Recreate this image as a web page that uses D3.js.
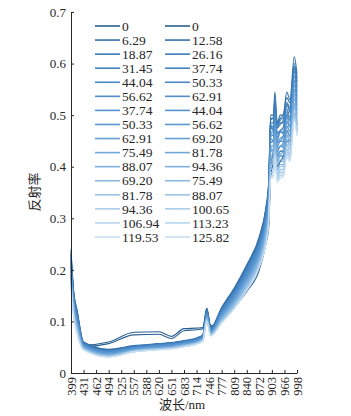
<!DOCTYPE html>
<html>
<head>
<meta charset="utf-8">
<script src="https://cdn.jsdelivr.net/npm/d3@7"></script>
<style>
  body { margin: 0; background: #fff; }
  svg { display: block; }
  text { font-family: 'Liberation Serif', 'DejaVu Serif', 'Noto Sans CJK SC', serif; }
</style>
</head>
<body>
<div id="chart"></div>
<script>
// tick labels on the band axis (printed wavelengths, nm)
const xTickLabels = [399, 431, 462, 494, 525, 557, 588, 620, 651, 683, 714, 746, 777, 809, 840, 872, 903, 966, 998];
const yTicks = [0, 0.1, 0.2, 0.3, 0.4, 0.5, 0.6, 0.7];

// sampled wavelengths for every spectrum
const wavelengths = [399, 405, 415, 431, 494, 557, 620, 651, 683, 714, 730, 740, 750, 777, 809, 840, 872, 888, 895, 900, 910, 918, 930, 945, 960, 972, 980, 991, 998];

const labelsLeft = ['0', '6.29', '18.87', '31.45', '44.04', '56.62', '37.74', '50.33', '62.91', '75.49', '88.07', '69.20', '81.78', '94.36', '106.94', '119.53'];
const labelsRight = ['0', '12.58', '26.16', '37.74', '50.33', '62.91', '44.04', '56.62', '69.20', '81.78', '94.36', '75.49', '88.07', '100.65', '113.23', '125.82'];

// reflectance of the first legend column
const groupLeft = [
  [0.2,0.13,0.085,0.054,0.06,0.079,0.08,0.071,0.086,0.087,0.088,0.126,0.092,0.102,0.13,0.163,0.208,0.258,0.29,0.4,0.43,0.46,0.42,0.43,0.43,0.47,0.46,0.52,0.48],
  [0.24,0.165,0.12,0.06,0.046,0.053,0.057,0.059,0.063,0.068,0.074,0.124,0.088,0.127,0.165,0.21,0.265,0.32,0.37,0.5,0.5,0.545,0.485,0.5,0.5,0.545,0.53,0.613,0.58],
  [0.23,0.161,0.117,0.059,0.045,0.052,0.056,0.058,0.062,0.067,0.073,0.122,0.087,0.125,0.162,0.206,0.26,0.315,0.364,0.49,0.495,0.53,0.48,0.49,0.495,0.5,0.51,0.6,0.57],
  [0.23,0.158,0.113,0.058,0.044,0.051,0.055,0.057,0.061,0.066,0.072,0.12,0.086,0.123,0.159,0.203,0.256,0.31,0.358,0.482,0.47,0.52,0.475,0.482,0.49,0.522,0.512,0.592,0.562],
  [0.225,0.154,0.11,0.057,0.043,0.05,0.054,0.056,0.06,0.065,0.071,0.119,0.084,0.12,0.156,0.199,0.252,0.304,0.352,0.473,0.48,0.505,0.463,0.47,0.475,0.513,0.49,0.583,0.553],
  [0.22,0.15,0.106,0.055,0.041,0.049,0.053,0.055,0.059,0.064,0.07,0.117,0.083,0.118,0.153,0.195,0.247,0.299,0.346,0.464,0.46,0.504,0.45,0.468,0.464,0.5,0.494,0.574,0.544],
  [0.215,0.146,0.103,0.054,0.04,0.049,0.053,0.055,0.059,0.064,0.07,0.115,0.082,0.116,0.15,0.191,0.243,0.294,0.34,0.455,0.45,0.49,0.445,0.455,0.46,0.495,0.48,0.565,0.535],
  [0.21,0.143,0.1,0.053,0.039,0.048,0.052,0.054,0.058,0.063,0.069,0.113,0.081,0.114,0.147,0.188,0.238,0.289,0.334,0.446,0.45,0.486,0.436,0.44,0.446,0.486,0.476,0.556,0.526],
  [0.205,0.139,0.096,0.052,0.038,0.047,0.051,0.053,0.057,0.062,0.068,0.111,0.08,0.111,0.144,0.184,0.234,0.283,0.328,0.437,0.43,0.477,0.427,0.44,0.437,0.477,0.467,0.547,0.517],
  [0.2,0.135,0.093,0.051,0.037,0.046,0.05,0.052,0.056,0.061,0.067,0.11,0.078,0.109,0.141,0.18,0.229,0.278,0.322,0.428,0.435,0.468,0.418,0.425,0.428,0.468,0.458,0.538,0.508],
  [0.195,0.131,0.09,0.05,0.036,0.045,0.049,0.051,0.055,0.06,0.066,0.108,0.077,0.107,0.138,0.176,0.225,0.273,0.316,0.419,0.415,0.459,0.409,0.42,0.419,0.459,0.449,0.529,0.499],
  [0.19,0.128,0.086,0.049,0.035,0.044,0.048,0.05,0.054,0.059,0.065,0.106,0.076,0.105,0.135,0.173,0.22,0.268,0.31,0.41,0.41,0.45,0.4,0.41,0.41,0.45,0.44,0.52,0.49],
  [0.185,0.124,0.083,0.048,0.034,0.043,0.047,0.049,0.053,0.058,0.064,0.104,0.075,0.102,0.132,0.169,0.216,0.262,0.304,0.401,0.405,0.441,0.391,0.4,0.401,0.441,0.431,0.511,0.481],
  [0.18,0.12,0.08,0.047,0.033,0.042,0.046,0.048,0.052,0.057,0.063,0.102,0.074,0.1,0.129,0.165,0.211,0.257,0.298,0.392,0.39,0.432,0.382,0.392,0.395,0.432,0.422,0.502,0.472],
  [0.175,0.118,0.077,0.046,0.032,0.042,0.046,0.048,0.052,0.057,0.063,0.101,0.073,0.099,0.127,0.163,0.208,0.254,0.294,0.386,0.386,0.426,0.376,0.386,0.386,0.426,0.416,0.496,0.466],
  [0.17,0.115,0.075,0.045,0.031,0.041,0.045,0.047,0.051,0.056,0.062,0.1,0.072,0.097,0.125,0.16,0.205,0.25,0.29,0.38,0.38,0.42,0.37,0.38,0.38,0.42,0.41,0.49,0.46]
];

// reflectance of the second legend column
const groupRight = [
  [0.19,0.125,0.08,0.051,0.057,0.074,0.075,0.067,0.082,0.084,0.086,0.122,0.089,0.1,0.127,0.158,0.2,0.25,0.28,0.38,0.41,0.44,0.4,0.41,0.42,0.45,0.45,0.5,0.47],
  [0.235,0.163,0.118,0.059,0.045,0.052,0.056,0.058,0.062,0.067,0.073,0.123,0.087,0.126,0.163,0.207,0.262,0.317,0.366,0.494,0.494,0.51,0.484,0.494,0.5,0.534,0.524,0.59,0.574],
  [0.225,0.159,0.114,0.058,0.044,0.052,0.056,0.058,0.062,0.067,0.073,0.121,0.086,0.123,0.16,0.204,0.258,0.311,0.36,0.485,0.485,0.525,0.475,0.485,0.485,0.525,0.515,0.595,0.565],
  [0.22,0.155,0.111,0.057,0.043,0.051,0.055,0.057,0.061,0.066,0.072,0.119,0.085,0.121,0.157,0.2,0.253,0.306,0.354,0.476,0.47,0.516,0.466,0.47,0.476,0.52,0.506,0.586,0.556],
  [0.215,0.151,0.108,0.056,0.042,0.05,0.054,0.056,0.06,0.065,0.071,0.117,0.084,0.119,0.154,0.196,0.249,0.301,0.348,0.467,0.467,0.507,0.457,0.467,0.467,0.507,0.497,0.577,0.547],
  [0.21,0.148,0.104,0.055,0.041,0.049,0.053,0.055,0.059,0.064,0.07,0.116,0.082,0.117,0.151,0.193,0.244,0.296,0.342,0.458,0.462,0.498,0.448,0.45,0.458,0.498,0.488,0.568,0.538],
  [0.205,0.144,0.101,0.054,0.039,0.048,0.052,0.054,0.058,0.063,0.069,0.114,0.081,0.114,0.148,0.189,0.24,0.29,0.336,0.449,0.449,0.489,0.439,0.449,0.449,0.489,0.479,0.559,0.529],
  [0.2,0.14,0.098,0.053,0.039,0.047,0.051,0.053,0.057,0.062,0.068,0.112,0.08,0.112,0.145,0.185,0.235,0.285,0.33,0.44,0.44,0.48,0.43,0.44,0.44,0.48,0.47,0.55,0.52],
  [0.195,0.136,0.094,0.051,0.037,0.046,0.05,0.052,0.056,0.061,0.067,0.11,0.079,0.11,0.142,0.181,0.231,0.28,0.324,0.431,0.431,0.471,0.421,0.431,0.431,0.471,0.461,0.541,0.511],
  [0.19,0.133,0.091,0.05,0.036,0.045,0.049,0.051,0.055,0.06,0.066,0.108,0.078,0.108,0.139,0.178,0.226,0.275,0.318,0.422,0.422,0.462,0.412,0.422,0.422,0.462,0.452,0.532,0.502],
  [0.185,0.129,0.087,0.049,0.035,0.044,0.048,0.05,0.054,0.059,0.065,0.107,0.076,0.105,0.136,0.174,0.222,0.269,0.312,0.413,0.413,0.453,0.403,0.413,0.413,0.453,0.443,0.523,0.493],
  [0.18,0.125,0.084,0.048,0.034,0.043,0.047,0.049,0.053,0.058,0.064,0.105,0.075,0.103,0.133,0.17,0.217,0.264,0.306,0.404,0.404,0.444,0.394,0.404,0.404,0.444,0.434,0.514,0.484],
  [0.175,0.121,0.081,0.047,0.033,0.043,0.047,0.049,0.053,0.058,0.064,0.103,0.074,0.101,0.13,0.166,0.213,0.259,0.3,0.395,0.395,0.435,0.385,0.395,0.395,0.435,0.425,0.505,0.475],
  [0.175,0.119,0.078,0.046,0.032,0.042,0.046,0.048,0.052,0.057,0.063,0.102,0.073,0.099,0.128,0.164,0.21,0.255,0.296,0.389,0.389,0.429,0.379,0.389,0.389,0.429,0.419,0.499,0.469],
  [0.17,0.116,0.076,0.045,0.031,0.041,0.045,0.047,0.051,0.056,0.062,0.101,0.072,0.098,0.126,0.161,0.207,0.252,0.292,0.383,0.383,0.423,0.373,0.383,0.383,0.423,0.413,0.493,0.463],
  [0.165,0.115,0.075,0.045,0.031,0.041,0.045,0.047,0.051,0.056,0.062,0.1,0.072,0.097,0.125,0.16,0.205,0.25,0.29,0.38,0.378,0.42,0.37,0.378,0.38,0.42,0.41,0.49,0.46]
];

// one blue per legend row, dark to light
const rowColors = ['#2b5f91', '#3470a8', '#3b7bb8', '#4282c0', '#4a89c6', '#4f8ecb', '#5593cf', '#5b98d2',
  '#65a0d6', '#71a8da', '#7eb0dd', '#8cb9e1', '#9bc3e6', '#aacdea', '#b9d6ee', '#c8dff2'];

const width = 351;
const height = 416;
const margin = { top: 12, right: 54, bottom: 43, left: 71 };
const innerW = width - margin.left - margin.right;
const innerH = height - margin.top - margin.bottom;
const textColor = '#262626';
const serif = "'Liberation Serif', 'DejaVu Serif', 'Noto Sans CJK SC', serif";

const svg = d3.select('#chart')
  .append('svg')
  .attr('width', width)
  .attr('height', height);

const chartGroup = svg.append('g')
  .attr('transform', `translate(${margin.left},${margin.top})`);

// band axis: printed labels are evenly spaced, so use a piecewise linear scale
const tickPos = xTickLabels.map((d, i) => i * innerW / (xTickLabels.length - 1));
const xScale = d3.scaleLinear().domain(xTickLabels).range(tickPos);
const yScale = d3.scaleLinear().domain([0, 0.7]).range([innerH, 0]);

const line = d3.line()
  .x((d, i) => xScale(wavelengths[i]))
  .y(d => yScale(d))
  .curve(d3.curveMonotoneX);

// spectra: first column drawn first, second column on top
const allSeries = [];
groupLeft.forEach((vals, i) => allSeries.push({ vals, color: rowColors[i] }));
groupRight.forEach((vals, i) => allSeries.push({ vals, color: rowColors[i] }));

chartGroup.append('g')
  .selectAll('path')
  .data(allSeries)
  .join('path')
  .attr('fill', 'none')
  .attr('stroke', d => d.color)
  .attr('stroke-width', 1.1)
  .attr('stroke-linejoin', 'round')
  .attr('d', d => line(d.vals));

// axes, ticks pointing inward
const xAxis = chartGroup.append('g')
  .attr('transform', `translate(0,${innerH})`)
  .call(d3.axisBottom(xScale).tickValues(xTickLabels).tickSizeInner(-3).tickSizeOuter(0).tickFormat(d3.format('d')));

xAxis.selectAll('text')
  .attr('transform', 'rotate(-90)')
  .attr('x', -4)
  .attr('y', 0)
  .attr('dy', '0.32em')
  .attr('text-anchor', 'end')
  .attr('fill', textColor)
  .attr('font-size', '12.5px');

const yAxis = chartGroup.append('g')
  .call(d3.axisLeft(yScale).tickValues(yTicks).tickSizeInner(-3).tickSizeOuter(0).tickPadding(5).tickFormat(d => d === 0 ? '0' : d3.format('.1f')(d)));

yAxis.selectAll('text')
  .attr('fill', textColor)
  .attr('font-size', '13px');

// d3 axes set a sans-serif family on their group; use the serif face instead
chartGroup.selectAll('g').attr('font-family', serif);
chartGroup.selectAll('.domain, .tick line').attr('stroke', textColor);

// axis titles
svg.append('text')
  .attr('x', 182)
  .attr('y', 409)
  .attr('text-anchor', 'middle')
  .attr('fill', textColor)
  .attr('font-family', serif)
  .attr('font-size', '13px')
  .text('波长/nm');

svg.append('text')
  .attr('transform', 'rotate(-90)')
  .attr('x', -192)
  .attr('y', 39)
  .attr('text-anchor', 'middle')
  .attr('fill', textColor)
  .attr('font-family', serif)
  .attr('font-size', '13px')
  .text('反射率');

// legend, two columns of sixteen rows
const legendRowY = d3.scaleLinear().domain([0, 15]).range([26, 237]);
const legendCols = [
  { labels: labelsLeft, x: 95 },
  { labels: labelsRight, x: 165 }
];

legendCols.forEach(col => {
  const rows = svg.append('g')
    .selectAll('g')
    .data(col.labels)
    .join('g')
    .attr('transform', (d, i) => `translate(${col.x},${legendRowY(i)})`);

  rows.append('line')
    .attr('x1', 0)
    .attr('x2', 25)
    .attr('stroke', (d, i) => rowColors[i])
    .attr('stroke-width', 1.6);

  rows.append('text')
    .attr('x', 27)
    .attr('dy', '0.35em')
    .attr('fill', textColor)
    .attr('font-family', serif)
    .attr('font-size', '13.5px')
    .text(d => d);
});
</script>
</body>
</html>
